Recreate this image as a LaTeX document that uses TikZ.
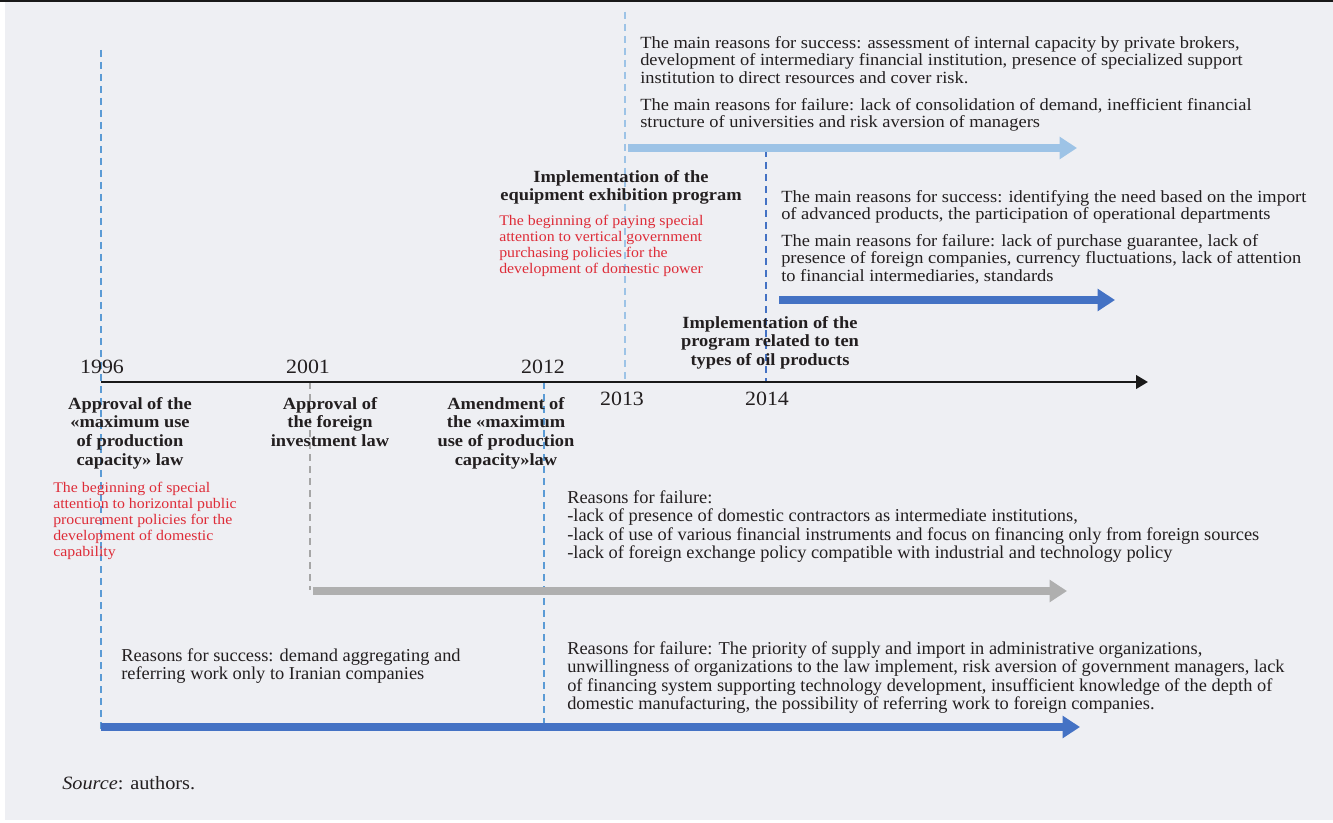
\documentclass[tikz,border=0pt]{standalone}
\usepackage{fontspec}
\setmainfont{Liberation Serif}[FakeStretch=1.08]
\newfontfamily\narrowfont[FakeStretch=1.015]{Liberation Serif}
\usetikzlibrary{arrows.meta}
\definecolor{bgcolor}{HTML}{EEEFF3}
\definecolor{textgray}{HTML}{231F20}
\definecolor{redtext}{HTML}{DE2C38}
\definecolor{darkblue}{HTML}{4472C4}
\definecolor{lightblue}{HTML}{9DC3E6}
\definecolor{midblue}{HTML}{5B9BD5}
\definecolor{arrowgray}{HTML}{AFAFAF}
\definecolor{dashgray}{HTML}{A6A6A6}
\tikzset{
  body/.style={text=textgray, align=left, inner sep=0pt, anchor=north west, font=\fontsize{12.8}{13.2}\selectfont},
  narrow/.style={text=textgray, align=left, inner sep=0pt, anchor=north west, font=\narrowfont\fontsize{13.6}{13.9}\selectfont},
  redbody/.style={text=redtext, align=left, inner sep=0pt, anchor=north west, font=\fontsize{11}{12}\selectfont},
  title/.style={text=textgray, align=center, inner sep=0pt, anchor=north, font=\bfseries\fontsize{12.8}{14}\selectfont},
  year/.style={text=textgray, inner sep=0pt, anchor=base, font=\fontsize{15.2}{16}\selectfont},
  dashline/.style={line width=0.8pt, dash pattern=on 5pt off 4pt},
  bigarrow/.style={line width=6pt, -{Triangle[length=13pt, width=16pt]}}
}
\begin{document}
\begin{tikzpicture}[x=0.75pt, y=-0.75pt]
  \useasboundingbox (0,0) rectangle (1333,823);
  \fill[white] (0,0) rectangle (1333,823);
  \fill[bgcolor] (5,2) rectangle (1333,820);
  \draw[line width=1.5pt, black!90] (0,1) -- (1333,1);

  \coordinate (t1996) at (101,382);
  \coordinate (t2001) at (310,382);
  \coordinate (t2012) at (544,382);
  \coordinate (t2013) at (625,382);
  \coordinate (t2014) at (766,382);
  \coordinate (tend) at (1148,382);
  \coordinate (top1996) at (101,50);
  \coordinate (top2013) at (625,12);
  \coordinate (top2014) at (766,150);
  \coordinate (low1996) at (101,730);
  \coordinate (low2001) at (310,590);
  \coordinate (low2012) at (544,730);

  \draw[dashline, midblue] (top1996) -- (low1996);
  \draw[dashline, dashgray] (t2001) -- (low2001);
  \draw[dashline, midblue] (t2012) -- (low2012);
  \draw[dashline, lightblue] (top2013) -- (t2013);
  \draw[dashline, darkblue] (top2014) -- (t2014);

  \coordinate (a13s) at (628,148);
  \coordinate (a13e) at (1077,148);
  \coordinate (a14s) at (779,300);
  \coordinate (a14e) at (1115,300);
  \coordinate (a01s) at (313,591);
  \coordinate (a01e) at (1067,591);
  \coordinate (a96s) at (101,727);
  \coordinate (a96e) at (1080,727);
  \draw[bigarrow, lightblue] (a13s) -- (a13e);
  \draw[bigarrow, darkblue] (a14s) -- (a14e);
  \draw[bigarrow, arrowgray] (a01s) -- (a01e);
  \draw[bigarrow, darkblue] (a96s) -- (a96e);
  \draw[line width=2.2pt, black!90, -{Triangle[length=9pt, width=10pt]}] (t1996) -- (tend);

  \node[year] (y1996) at (102,373) {1996};
  \node[year] (y2001) at (308,373) {2001};
  \node[year] (y2012) at (543,373) {2012};
  \node[year] (y2013) at (622,405) {2013};
  \node[year] (y2014) at (767,405) {2014};

  \node[body] (succ13) at (640,36) {The main reasons for success: assessment of internal capacity by private brokers,\\development of intermediary financial institution, presence of specialized support\\institution to direct resources and cover risk.};
  \node[body] (fail13) at (640,98) {The main reasons for failure: lack of consolidation of demand, inefficient financial\\structure of universities and risk aversion of managers};
  \node[title] (ev13) at (621,170) {Implementation of the\\equipment exhibition program};
  \node[redbody] (note13) at (499,215) {The beginning of paying special\\attention to vertical government\\purchasing policies for the\\development of domestic power};
  \node[body] (succ14) at (781,190) {The main reasons for success: identifying the need based on the import\\of advanced products, the participation of operational departments};
  \node[body] (fail14) at (781,234) {The main reasons for failure: lack of purchase guarantee, lack of\\presence of foreign companies, currency fluctuations, lack of attention\\to financial intermediaries, standards};
  \node[title] (ev14) at (770,316) {Implementation of the\\program related to ten\\types of oil products};

  \node[title] (ev96) at (130,397) {Approval of the\\«maximum use\\of production\\capacity» law};
  \node[title] (ev01) at (330,397) {Approval of\\the foreign\\investment law};
  \node[title] (ev12) at (506,397) {Amendment of\\the «maximum\\use of production\\capacity»law};
  \node[redbody] (note96) at (53,482) {The beginning of special\\attention to horizontal public\\procurement policies for the\\development of domestic\\capability};

  \node[narrow] (fail01) at (567,490) {Reasons for failure:\\-lack of presence of domestic contractors as intermediate institutions,\\-lack of use of various financial instruments and focus on financing only from foreign sources\\-lack of foreign exchange policy compatible with industrial and technology policy};
  \node[narrow] (succ96) at (121,648) {Reasons for success: demand aggregating and\\referring work only to Iranian companies};
  \node[narrow] (fail96) at (567,641) {Reasons for failure: The priority of supply and import in administrative organizations,\\unwillingness of organizations to the law implement, risk aversion of government managers, lack\\of financing system supporting technology development, insufficient knowledge of the depth of\\domestic manufacturing, the possibility of referring work to foreign companies.};

  \node[text=textgray, inner sep=0pt, anchor=base west, font=\fontsize{14.1}{15}\selectfont] (source) at (62,789) {\textit{Source}: authors.};
\end{tikzpicture}
\end{document}
